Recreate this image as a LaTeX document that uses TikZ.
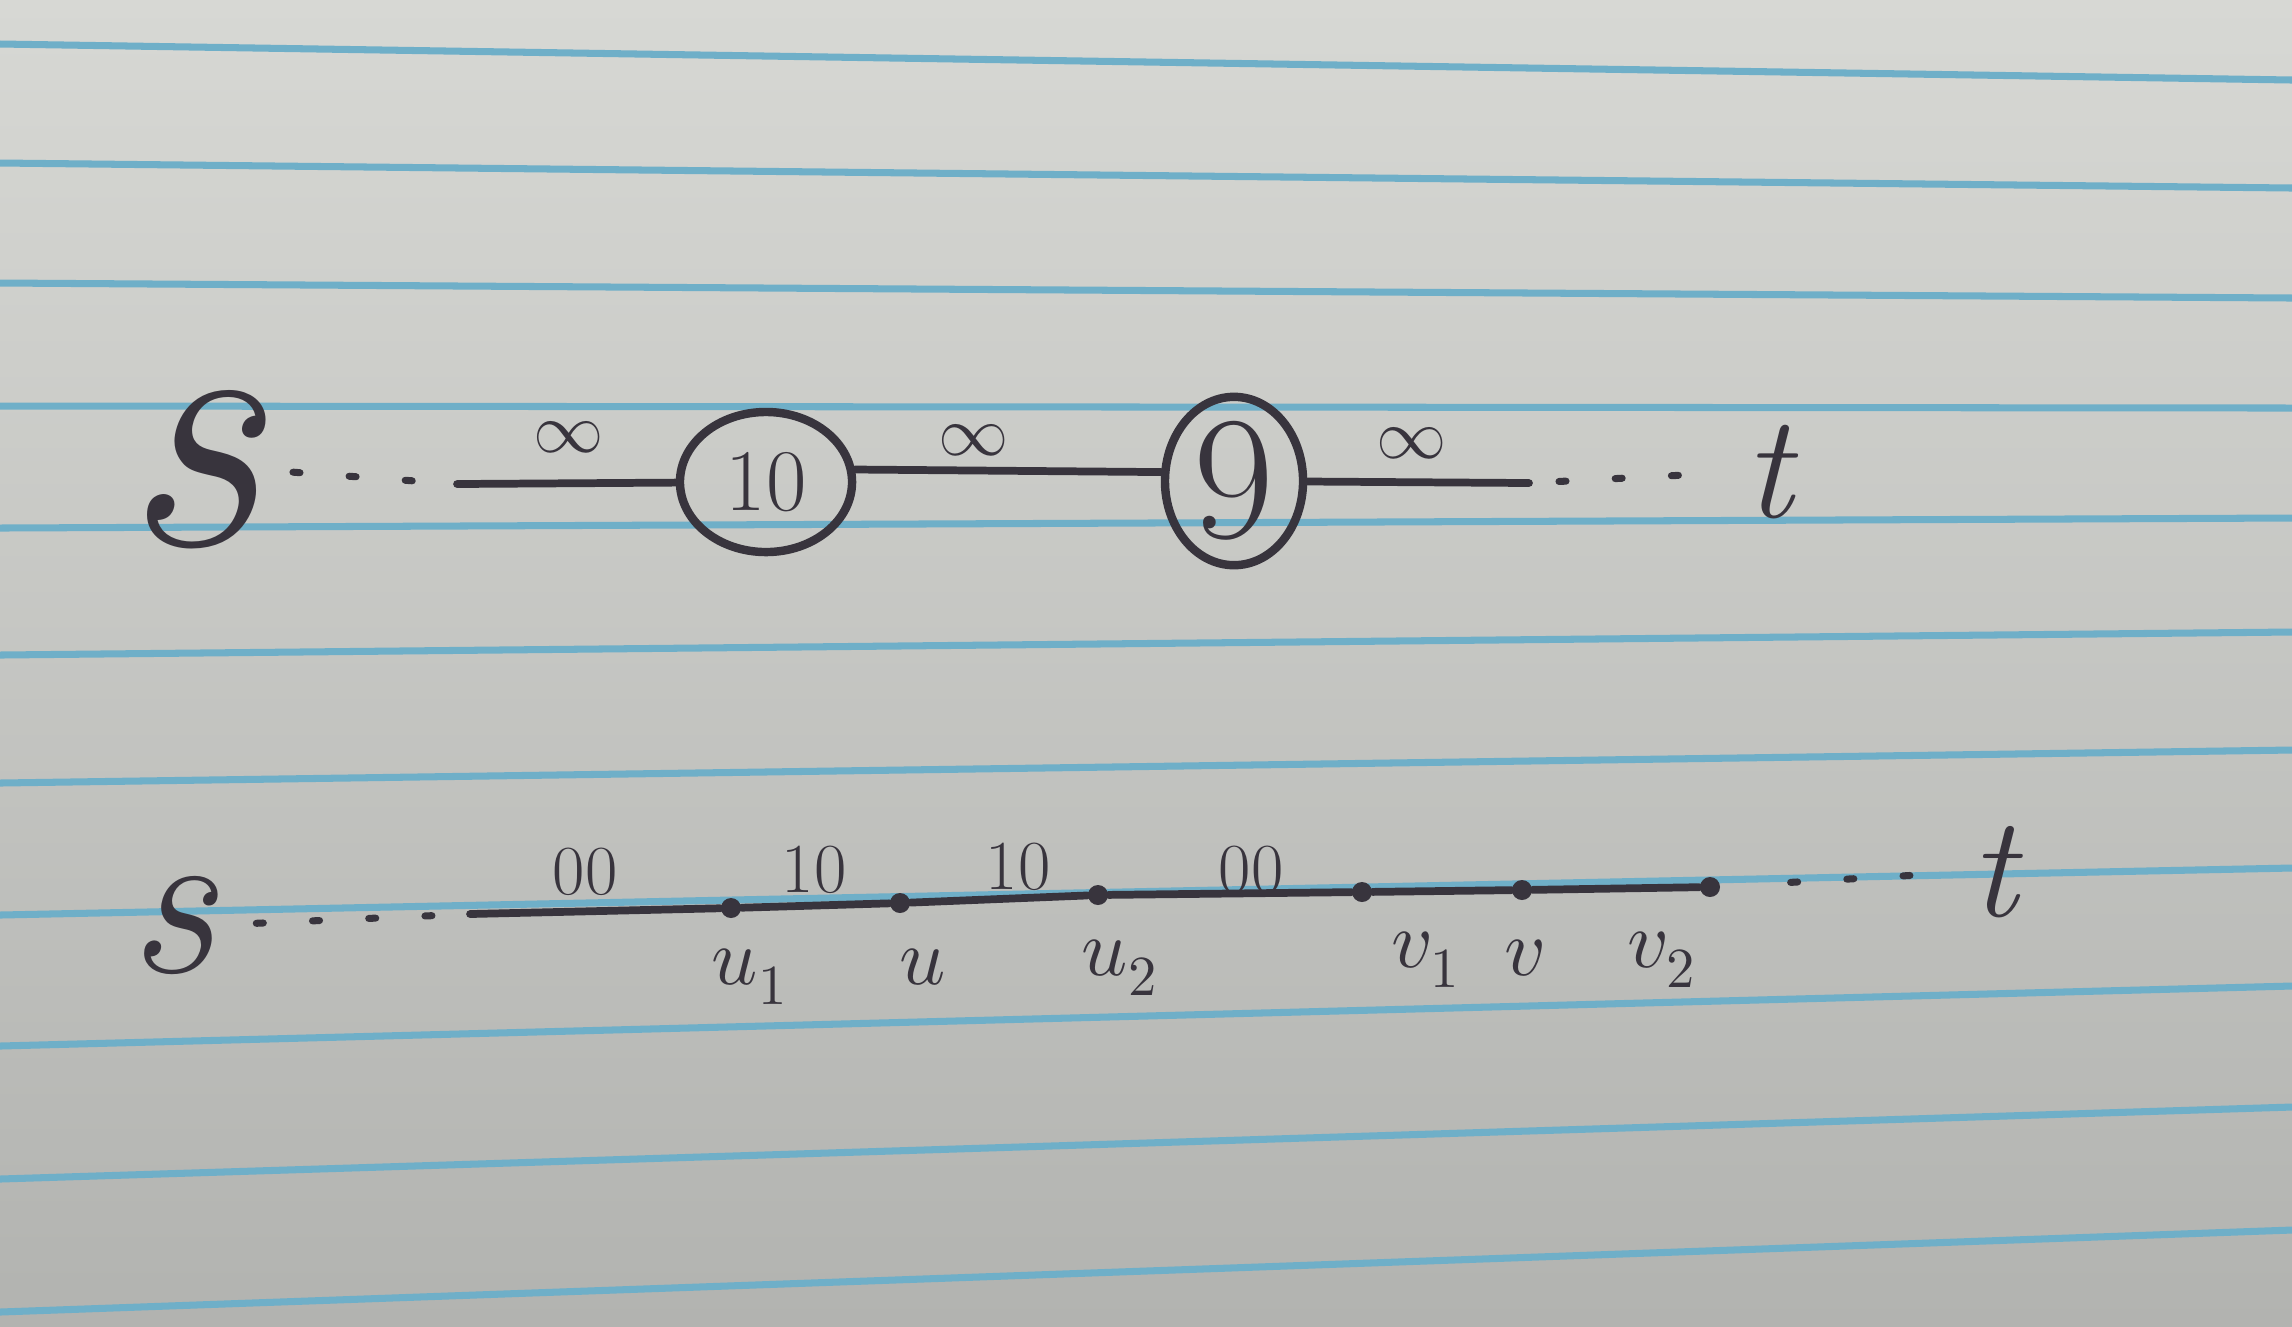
\documentclass[tikz,border=0pt]{standalone}
\usepackage{unicode-math}
\usetikzlibrary{shapes.geometric}
\definecolor{paperT}{HTML}{D7D8D4}
\definecolor{paperB}{HTML}{B2B3B0}
\definecolor{rulecol}{HTML}{6FAFC8}
\definecolor{ink}{HTML}{38343D}
\begin{document}
\begin{tikzpicture}[x=0.01cm,y=-0.01cm,
  pen/.style={draw=ink,line width=2.2pt,line cap=round},
  dotsline/.style={draw=ink,line width=2pt,line cap=round,dash pattern=on 2pt off 14pt},
  ring/.style={ellipse,draw=ink,line width=2.4pt,inner sep=0pt,text=ink},
  vtx/.style={circle,fill=ink,inner sep=0pt,minimum size=0.2cm},
  txt/.style={text=ink,inner sep=0pt},
  bigs/.style={txt,font=\fontsize{100}{100}\selectfont\itshape},
  wt/.style={txt,font=\fontsize{20}{20}\selectfont},
  lab/.style={txt,font=\fontsize{23}{23}\selectfont}]
\useasboundingbox (0,0) rectangle (2292,1326);
\shade[top color=paperT,bottom color=paperB] (0,0) rectangle (2292,1326);
\foreach \l/\r in {44/80,163/188,283/298,406/408,528/518,655/632,783/750,915/868,1046/986,1179/1107,1312/1230}
  \draw[rulecol,line width=2pt] (0,\l) -- (2292,\r);

% top row
\node[bigs] (s1) at (192,470) {s};
\node[ring,minimum width=1.72cm,minimum height=1.40cm,font=\fontsize{25}{25}\selectfont] (c10) at (766,482) {10};
\node[ring,minimum width=1.38cm,minimum height=1.52cm,font=\fontsize{50}{50}\selectfont] (c9) at (1234,481) {9};
\node[txt,font=\fontsize{42}{42}\selectfont\itshape] (t1) at (1768,472) {t};
\coordinate (a1) at (457,484);
\coordinate (a2) at (1529,483);
\draw[dotsline,shorten <=0.3cm] (s1.east) -- (a1);
\draw[pen] (a1) -- (c10);
\draw[pen] (c10.8) -- (c9.173);
\draw[pen] (c9) -- (a2);
\draw[dotsline,shorten <=0.3cm,shorten >=0.5cm] (a2) -- (t1.west);
\node[wt] (e1) at (569,437) {$\infty$};
\node[wt] (e2) at (974,440) {$\infty$};
\node[wt] (e3) at (1412,443) {$\infty$};

% bottom row
\node[txt,font=\fontsize{62}{62}\selectfont\itshape] (s2) at (172,925) {s};
\node[txt,font=\fontsize{41}{41}\selectfont\itshape] (t2) at (1994,872) {t};
\node[vtx] (u1) at (731,908) {};
\node[vtx] (u) at (900,903) {};
\node[vtx] (u2) at (1098,895) {};
\node[vtx] (v1) at (1362,892) {};
\node[vtx] (v) at (1522,890) {};
\node[vtx] (v2) at (1710,887) {};
\coordinate (b1) at (470,914);
\draw[dotsline,shorten <=0.4cm] (s2.east) -- (b1);
\draw[pen] (b1) -- (u1);
\draw[pen] (u1) -- (u);
\draw[pen] (u) -- (u2);
\draw[pen] (u2) -- (v1);
\draw[pen] (v1) -- (v);
\draw[pen] (v) -- (v2);
\draw[dotsline,shorten <=0.7cm,shorten >=0.6cm] (v2) -- (t2.west);
\node[wt] (w1) at (585,872) {00};
\node[wt] (w2) at (814,870) {10};
\node[wt] (w3) at (1018,867) {10};
\node[wt] (w4) at (1251,870) {00};
\node[lab] (lu1) at (750,977) {$u_1$};
\node[lab] (lu) at (923,967) {$u$};
\node[lab] (lu2) at (1120,968) {$u_2$};
\node[lab] (lv1) at (1426,960) {$v_1$};
\node[lab] (lv) at (1525,958) {$v$};
\node[lab] (lv2) at (1662,960) {$v_2$};
\end{tikzpicture}
\end{document}
